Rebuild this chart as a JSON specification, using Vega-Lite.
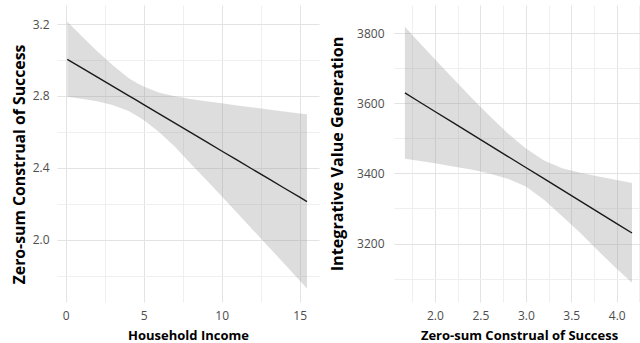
{
  "$schema": "https://vega.github.io/schema/vega-lite/v6.json",
  "background": "white",
  "padding": {"left": 11, "top": 5, "right": 0, "bottom": 0},
  "datasets": {
    "income": [
      {"x": 0.1, "fit": 3.004, "lo": 2.796, "hi": 3.213},
      {"x": 1, "fit": 2.958, "lo": 2.785, "hi": 3.135},
      {"x": 2, "fit": 2.906, "lo": 2.770, "hi": 3.050},
      {"x": 3, "fit": 2.855, "lo": 2.750, "hi": 2.972},
      {"x": 4, "fit": 2.803, "lo": 2.718, "hi": 2.902},
      {"x": 4.5, "fit": 2.778, "lo": 2.693, "hi": 2.875},
      {"x": 5, "fit": 2.752, "lo": 2.666, "hi": 2.852},
      {"x": 6, "fit": 2.700, "lo": 2.598, "hi": 2.818},
      {"x": 7, "fit": 2.649, "lo": 2.518, "hi": 2.798},
      {"x": 8, "fit": 2.597, "lo": 2.424, "hi": 2.783},
      {"x": 9, "fit": 2.546, "lo": 2.334, "hi": 2.770},
      {"x": 10, "fit": 2.494, "lo": 2.242, "hi": 2.759},
      {"x": 11, "fit": 2.443, "lo": 2.149, "hi": 2.747},
      {"x": 12, "fit": 2.391, "lo": 2.055, "hi": 2.736},
      {"x": 13, "fit": 2.340, "lo": 1.962, "hi": 2.725},
      {"x": 14, "fit": 2.288, "lo": 1.868, "hi": 2.714},
      {"x": 15, "fit": 2.237, "lo": 1.774, "hi": 2.703},
      {"x": 15.47, "fit": 2.212, "lo": 1.729, "hi": 2.698}
    ],
    "zerosum": [
      {"x": 1.67, "fit": 3630, "lo": 3442, "hi": 3819},
      {"x": 1.8, "fit": 3609, "lo": 3437, "hi": 3782},
      {"x": 2.0, "fit": 3577, "lo": 3429, "hi": 3726},
      {"x": 2.2, "fit": 3545, "lo": 3420, "hi": 3671},
      {"x": 2.4, "fit": 3513, "lo": 3411, "hi": 3617},
      {"x": 2.6, "fit": 3481, "lo": 3400, "hi": 3565},
      {"x": 2.8, "fit": 3449, "lo": 3385, "hi": 3515},
      {"x": 3.0, "fit": 3417, "lo": 3363, "hi": 3471},
      {"x": 3.2, "fit": 3385, "lo": 3325, "hi": 3437},
      {"x": 3.4, "fit": 3353, "lo": 3278, "hi": 3415},
      {"x": 3.6, "fit": 3321, "lo": 3230, "hi": 3402},
      {"x": 3.8, "fit": 3289, "lo": 3178, "hi": 3391},
      {"x": 4.0, "fit": 3257, "lo": 3128, "hi": 3381},
      {"x": 4.168, "fit": 3230, "lo": 3088, "hi": 3373}
    ]
  },
  "config": {
    "view": {"stroke": null},
    "concat": {"spacing": 10},
    "axis": {
      "domain": false,
      "ticks": false,
      "labelOverlap": false,
      "tickCount": 30,
      "labelFont": "Open Sans",
      "labelFontSize": 12,
      "labelColor": "#4d4d4d",
      "titleFont": "Open Sans",
      "titleFontSize": 13,
      "titleFontWeight": "bold",
      "titleColor": "#000000",
      "gridWidth": 1
    }
  },
  "hconcat": [
    {
      "width": 262,
      "height": 297,
      "data": {"name": "income"},
      "layer": [
        {
          "mark": {"type": "area", "color": "#999999", "opacity": 0.33},
          "encoding": {
            "x": {
              "field": "x", "type": "quantitative",
              "scale": {"domain": [-0.56, 16.24], "nice": false, "zero": false},
              "axis": {
                "title": "Household Income",
                "values": [0, 2.5, 5, 7.5, 10, 12.5, 15],
                "tickCount": 30,
                "format": "d",
                "labelExpr": "datum.value % 5 == 0 ? datum.label : ''",
                "labelPadding": 8,
                "titlePadding": 8,
                "gridColor": {"condition": {"test": "datum.value % 5 == 0", "value": "#e3e3e3"}, "value": "#efefef"}
              }
            },
            "y": {
              "field": "lo", "type": "quantitative",
              "scale": {"domain": [1.654, 3.306], "nice": false, "zero": false},
              "axis": {
                "title": "Zero-sum Construal of Success",
                "titleFontSize": 15.8,
                "titleY": 159,
                "values": [1.8, 2.0, 2.2, 2.4, 2.6, 2.8, 3.0, 3.2],
                "tickCount": 30,
                "format": ".1f",
                "labelExpr": "round(datum.value * 10) % 4 == 0 ? datum.label : ''",
                "labelPadding": 8,
                "titlePadding": 5,
                "gridColor": {"condition": {"test": "round(datum.value * 10) % 4 == 0", "value": "#e3e3e3"}, "value": "#efefef"}
              }
            },
            "y2": {"field": "hi"}
          }
        },
        {
          "mark": {"type": "line", "color": "#1a1a1a", "strokeWidth": 1.4},
          "encoding": {
            "x": {"field": "x", "type": "quantitative"},
            "y": {"field": "fit", "type": "quantitative"}
          }
        }
      ]
    },
    {
      "width": 250,
      "height": 297,
      "data": {"name": "zerosum"},
      "layer": [
        {
          "mark": {"type": "area", "color": "#999999", "opacity": 0.33},
          "encoding": {
            "x": {
              "field": "x", "type": "quantitative",
              "scale": {"domain": [1.55, 4.30], "nice": false, "zero": false},
              "axis": {
                "title": "Zero-sum Construal of Success",
                "values": [1.75, 2, 2.25, 2.5, 2.75, 3, 3.25, 3.5, 3.75, 4, 4.25],
                "tickCount": 30,
                "format": ".1f",
                "labelExpr": "(round(datum.value * 4) % 2 == 0) ? datum.label : ''",
                "labelFlush": false,
                "labelPadding": 8,
                "titlePadding": 8,
                "gridColor": {"condition": {"test": "round(datum.value * 4) % 2 == 0", "value": "#e3e3e3"}, "value": "#efefef"}
              }
            },
            "y": {
              "field": "lo", "type": "quantitative",
              "scale": {"domain": [3033, 3881], "nice": false, "zero": false},
              "axis": {
                "title": "Integrative Value Generation",
                "titleFontSize": 16.2,
                "values": [3100, 3200, 3300, 3400, 3500, 3600, 3700, 3800],
                "tickCount": 30,
                "format": "d",
                "labelExpr": "datum.value % 200 == 0 ? datum.label : ''",
                "labelPadding": 10,
                "titlePadding": 11,
                "gridColor": {"condition": {"test": "datum.value % 200 == 0", "value": "#e3e3e3"}, "value": "#efefef"}
              }
            },
            "y2": {"field": "hi"}
          }
        },
        {
          "mark": {"type": "line", "color": "#1a1a1a", "strokeWidth": 1.4},
          "encoding": {
            "x": {"field": "x", "type": "quantitative"},
            "y": {"field": "fit", "type": "quantitative"}
          }
        }
      ]
    }
  ]
}
